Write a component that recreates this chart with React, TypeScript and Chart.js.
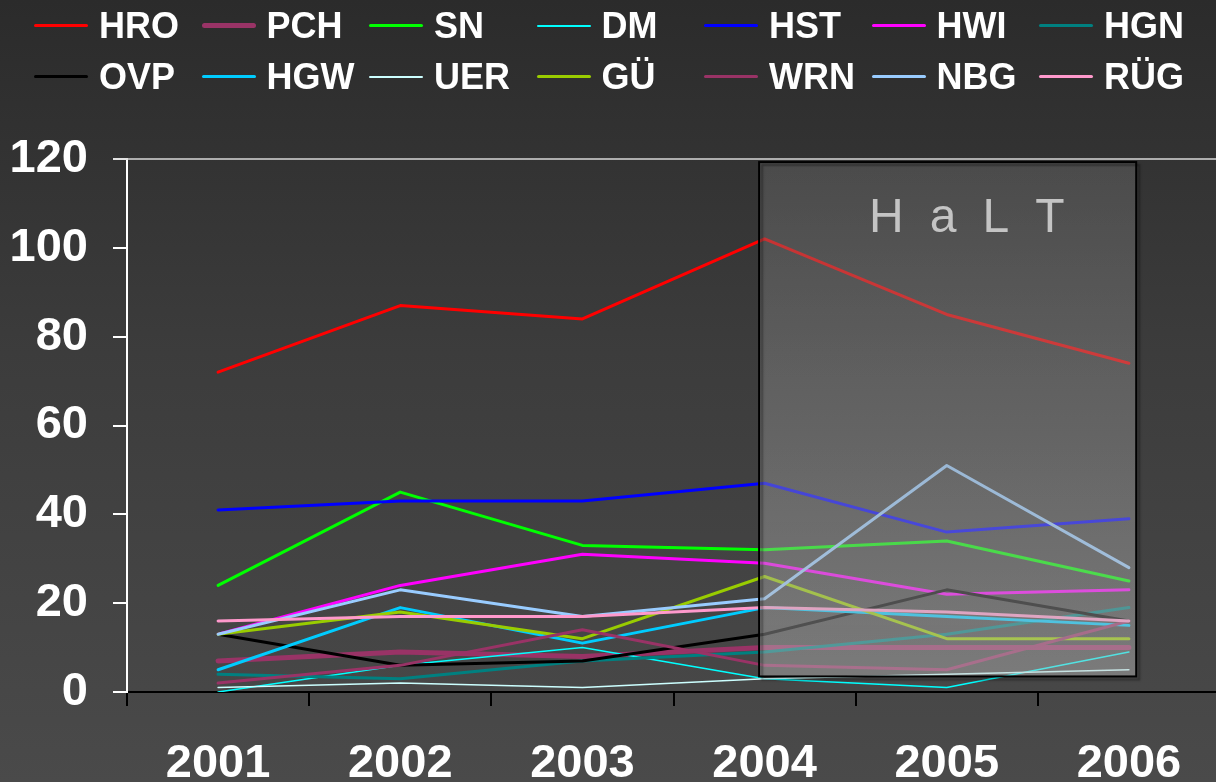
import React, { useEffect, useRef } from "react";
import { Chart, registerables } from "chart.js";

Chart.register(...registerables);

const years = ["2001", "2002", "2003", "2004", "2005", "2006"];
const yTickValues = [0, 20, 40, 60, 80, 100, 120];

const HRO = [72, 87, 84, 102, 85, 74];
const PCH = [7, 9, 8, 10, 10, 10];
const SN = [24, 45, 33, 32, 34, 25];
const DM = [0, 6, 10, 3, 1, 9];
const HST = [41, 43, 43, 47, 36, 39];
const HWI = [13, 24, 31, 29, 22, 23];
const HGN = [4, 3, 7, 9, 13, 19];
const OVP = [13, 6, 7, 13, 23, 16];
const HGW = [5, 19, 11, 19, 17, 15];
const UER = [1, 2, 1, 3, 4, 5];
const GUE = [13, 18, 12, 26, 12, 12];
const WRN = [2, 6, 14, 6, 5, 16];
const NBG = [13, 23, 17, 21, 51, 28];
const RUEG = [16, 17, 17, 19, 18, 16];

const seriesNames = ["HRO", "PCH", "SN", "DM", "HST", "HWI", "HGN", "OVP", "HGW", "UER", "GÜ", "WRN", "NBG", "RÜG"];
const seriesValues = [HRO, PCH, SN, DM, HST, HWI, HGN, OVP, HGW, UER, GUE, WRN, NBG, RUEG];
const seriesColors = ["#ff0000", "#993366", "#00ff00", "#00ffff", "#0000ff", "#ff00ff", "#008080", "#000000", "#00ccff", "#ccffff", "#99cc00", "#993366", "#99ccff", "#ff99cc"];
const seriesWidths = [3, 5, 3, 1.5, 3, 3, 3, 3, 3, 1.5, 3, 3, 3, 3];

// HaLT highlighted period (in data units: category index / value)
const haltLabel = "HaLT";
const haltXFrom = 2.97;
const haltXTo = 5.04;
const haltYFrom = 3.5;
const haltYTo = 119.3;
const haltLabelX = 4.11;
const haltLabelY = 103.5;

const FONT = "'Liberation Sans', Arial, sans-serif";

const haltPlugin = {
  id: "haltPlugin",
  afterDatasetsDraw(chart: any) {
    const { ctx, scales, chartArea } = chart;
    const x = scales.x;
    const y = scales.y;
    const l = x.getPixelForValue(haltXFrom);
    const r = x.getPixelForValue(haltXTo);
    const t = y.getPixelForValue(haltYTo);
    const b = y.getPixelForValue(haltYFrom);
    ctx.save();
    const g = ctx.createLinearGradient(0, t, 0, b);
    g.addColorStop(0, "rgba(108,108,108,0.42)");
    g.addColorStop(1, "rgba(190,190,190,0.44)");
    ctx.fillStyle = g;
    ctx.fillRect(l, t, r - l, b - t);
    ctx.shadowColor = "rgba(0,0,0,0.35)";
    ctx.shadowOffsetX = 3;
    ctx.shadowOffsetY = 3;
    ctx.shadowBlur = 2;
    ctx.strokeStyle = "#000";
    ctx.lineWidth = 2;
    ctx.strokeRect(l, t, r - l, b - t);
    ctx.shadowColor = "transparent";

    // label
    ctx.font = `48px ${FONT}`;
    ctx.fillStyle = "#c4c4c4";
    ctx.textBaseline = "alphabetic";
    ctx.textAlign = "left";
    const spacing = 26;
    const chars = haltLabel.split("");
    const widths = chars.map((c) => ctx.measureText(c).width);
    const total = widths.reduce((a, w) => a + w, 0) + spacing * (chars.length - 1);
    let cx = x.getPixelForValue(haltLabelX) - total / 2;
    const by = y.getPixelForValue(haltLabelY);
    chars.forEach((c, i) => {
      ctx.fillText(c, cx, by);
      cx += widths[i] + spacing;
    });

    // top frame line
    const ty = y.getPixelForValue(120);
    ctx.strokeStyle = "#d8d8d8";
    ctx.lineWidth = 1.5;
    ctx.beginPath();
    ctx.moveTo(chartArea.left - 14, ty);
    ctx.lineTo(chart.width, ty);
    ctx.stroke();
    ctx.restore();
  },
};

export default function App() {
  const ref = useRef<HTMLCanvasElement | null>(null);

  useEffect(() => {
    if (!ref.current) return;
    document.body.style.margin = "0";
    document.body.style.overflow = "hidden";
    const chart = new Chart(ref.current, {
      type: "line",
      data: {
        labels: years,
        datasets: seriesNames.map((name, i) => ({
          label: name,
          data: seriesValues[i],
          borderColor: seriesColors[i],
          backgroundColor: seriesColors[i],
          borderWidth: seriesWidths[i],
          pointRadius: 0,
          tension: 0,
          fill: false,
          borderJoinStyle: "round" as const,
          borderCapStyle: "round" as const,
          order: seriesNames.length - i,
        })),
      },
      options: {
        responsive: false,
        animation: false,
        layout: { padding: { top: 159, right: 4, bottom: 0, left: 0 } },
        plugins: { legend: { display: false }, tooltip: { enabled: false } },
        scales: {
          x: {
            type: "category",
            offset: true,
            afterFit: (s: any) => {
              s.height = 90;
            },
            grid: {
              drawOnChartArea: false,
              drawTicks: true,
              tickLength: 14,
              color: "#000",
              lineWidth: 2,
              offset: true,
            },
            border: { color: "#000", width: 2 },
            ticks: {
              color: "#ffffff",
              font: { family: FONT, size: 47, weight: "bold" },
              padding: 30,
              maxRotation: 0,
              autoSkip: false,
            },
          },
          y: {
            min: 0,
            max: 120,
            afterFit: (s: any) => {
              s.width = 127;
            },
            afterBuildTicks: (s: any) => {
              s.ticks = yTickValues.map((v) => ({ value: v }));
            },
            grid: {
              drawOnChartArea: false,
              drawTicks: true,
              tickLength: 14,
              color: "#ffffff",
              lineWidth: 2,
            },
            border: { color: "#ffffff", width: 2 },
            ticks: {
              color: "#ffffff",
              font: { family: FONT, size: 47, weight: "bold" },
              padding: 25,
            },
          },
        },
      },
      plugins: [haltPlugin],
    });
    return () => chart.destroy();
  }, []);

  return (
    <div
      style={{
        position: "fixed",
        left: 0,
        top: 0,
        width: 1216,
        height: 782,
        overflow: "hidden",
        background: "linear-gradient(to bottom, #2b2b2b 0%, #3c3c3c 45%, #4a4a4a 100%)",
      }}
    >
      <canvas ref={ref} width={1224} height={782} style={{ position: "absolute", left: 0, top: 0, display: "block" }} />
      <div
        style={{
          position: "absolute",
          left: 34,
          top: 0,
          display: "grid",
          gridTemplateColumns: "repeat(7, 167.5px)",
          gridAutoRows: "51px",
        }}
      >
        {seriesNames.map((name, i) => (
          <div key={name} style={{ display: "flex", alignItems: "center", height: 51 }}>
            <div
              style={{
                width: 54,
                height: Math.max(2, seriesWidths[i] + 0.5),
                background: seriesColors[i],
                borderRadius: 3,
                marginRight: 11,
              }}
            />
            <span
              style={{
                fontFamily: FONT,
                fontWeight: "bold",
                fontSize: 36,
                lineHeight: 1,
                color: "#ffffff",
                whiteSpace: "nowrap",
              }}
            >
              {name}
            </span>
          </div>
        ))}
      </div>
    </div>
  );
}
